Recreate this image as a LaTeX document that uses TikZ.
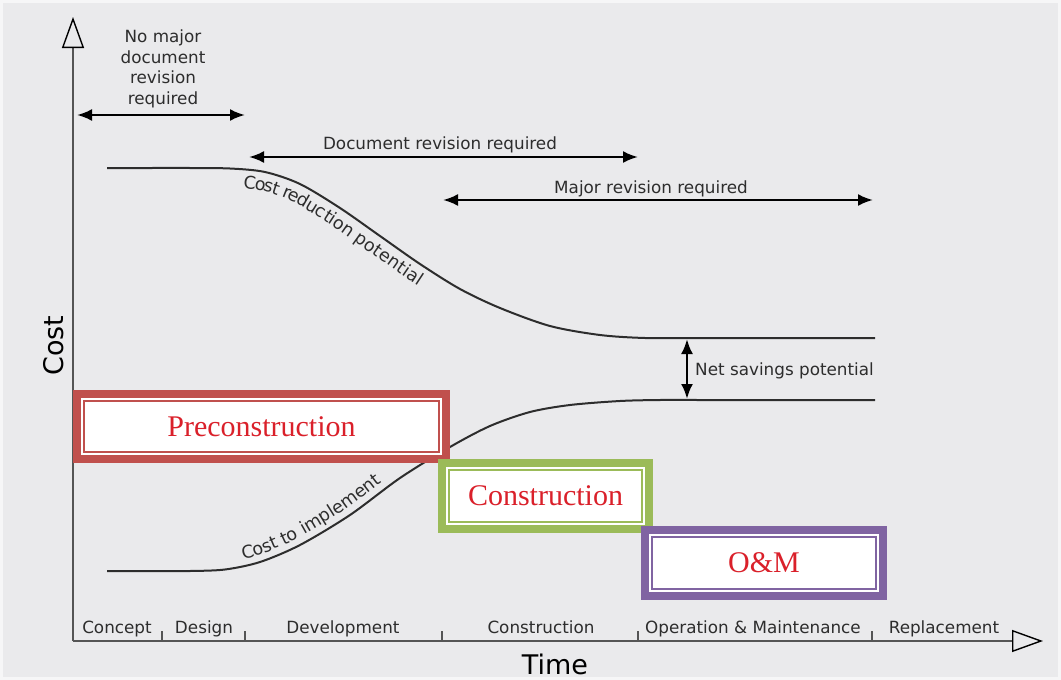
\documentclass[tikz,border=0pt]{standalone}
\usepackage{fontspec}
\setmainfont{DejaVu Sans}
\newfontfamily\serifred{Liberation Serif}
\usetikzlibrary{arrows.meta,decorations.text}

\definecolor{bgframe}{RGB}{246,246,247}
\definecolor{bg}{RGB}{234,234,236}
\definecolor{axisgray}{RGB}{85,85,85}
\definecolor{curvegray}{RGB}{45,45,45}
\definecolor{txt}{RGB}{45,45,45}
\definecolor{boxred}{RGB}{192,80,77}
\definecolor{boxgreen}{RGB}{155,187,89}
\definecolor{boxpurple}{RGB}{128,100,162}
\definecolor{labelred}{RGB}{218,32,42}

\newcommand{\lblfont}{\fontsize{16.8}{20.7}\selectfont}
\newcommand{\curvefont}{\fontsize{17.6}{20}\selectfont}

\begin{document}
\begin{tikzpicture}[x=1pt,y=-1pt,
  lbl/.style={font=\lblfont, text=txt, inner sep=0pt},
  big/.style={font=\fontsize{27}{30}\selectfont, text=black, inner sep=0pt},
  dimarrow/.style={draw=black, line width=2.4pt, {Latex[length=15pt,width=12pt]}-{Latex[length=15pt,width=12pt]}},
  curve/.style={draw=curvegray, line width=2pt},
  axisline/.style={draw=axisgray, line width=2.6pt, -{Triangle[open, length=31pt, width=22pt, line width=1.4pt, color=black]}},
  tickmark/.style={draw=axisgray, line width=1.5pt},
  phasebox/.style={draw=#1, line width=8pt, fill=white, outer sep=0pt, inner sep=0pt,
    text=labelred, font=\serifred\fontsize{30}{32}\selectfont},
  innerline/.style={draw=#1, line width=1.3pt}
]
% background
\fill[bgframe] (0,0) rectangle (1061,680);
\fill[bg] (3,3) rectangle (1058,677);
\useasboundingbox (0,0) rectangle (1061,680);

% curves
\draw[curve] plot[smooth] coordinates {(107,168) (150,168) (190,168) (230,168.5) (265,172) (300,184) (340,208) (380,236) (420,264) (460,289) (500,308) (550,326) (600,335) (645,338) (700,338) (760,338) (820,338) (875,338)};
\draw[curve] plot[smooth] coordinates {(107,571) (150,571) (190,571) (225,569.5) (260,562) (300,545) (350,515) (400,478) (450,447) (490,426) (530,412) (570,405) (620,401) (660,400) (700,400) (760,400) (820,400) (875,400)};

% labels along curves
\path[decorate, decoration={text along path, text color=txt,
   text={|\curvefont|Cost reduction potential}, raise=-19pt, text align={left indent=15pt}}]
   plot[smooth] coordinates {(230,168.5) (265,172) (300,184) (340,208) (380,236) (420,264) (460,289) (500,308) (550,326)};
\path[decorate, decoration={text along path, text color=txt,
   text={|\curvefont|Cost to implement}, raise=7pt, text align={left indent=20pt}}]
   plot[smooth] coordinates {(225,569.5) (260,562) (300,545) (350,515) (400,478) (450,447) (490,426) (530,412)};

% axes
\coordinate (O) at (73,641);
\coordinate (Ytip) at (73,17);
\coordinate (Xtip) at (1043,641);
\draw[axisline] (O) -- (Ytip);
\draw[axisline] (O) -- (Xtip);

% ticks
\foreach \tx/\nm in {162/t1,245/t2,442/t3,638/t4,872/t5}{
  \coordinate (\nm a) at (\tx,631);
  \coordinate (\nm b) at (\tx,641);
  \draw[tickmark] (\nm a) -- (\nm b);
}

% phase labels
\node[lbl, anchor=base] (concept) at (117,633) {Concept};
\node[lbl, anchor=base] (design) at (204,633) {Design};
\node[lbl, anchor=base] (devel) at (343,633) {Development};
\node[lbl, anchor=base] (constr) at (541,633) {Construction};
\node[lbl, anchor=base] (om) at (753,633) {Operation \& Maintenance};
\node[lbl, anchor=base] (repl) at (944,633) {Replacement};

% axis titles
\node[big, anchor=base] (time) at (555,674) {Time};
\node[big, anchor=base, rotate=90] (cost) at (63,345.5) {Cost};

% revision arrows
\node[lbl, align=center, anchor=north] (nomajor) at (163,29.5) {No major\\document\\revision\\required};
\coordinate (a1l) at (77,115);
\coordinate (a1r) at (245,115);
\draw[dimarrow] (a1l) -- (a1r);

\node[lbl, anchor=base] (docrev) at (440,149) {Document revision required};
\coordinate (a2l) at (249,157);
\coordinate (a2r) at (638,157);
\draw[dimarrow] (a2l) -- (a2r);

\node[lbl, anchor=base] (majrev) at (651,193) {Major revision required};
\coordinate (a3l) at (443,200);
\coordinate (a3r) at (873,200);
\draw[dimarrow] (a3l) -- (a3r);

% net savings
\coordinate (nsTop) at (687,339);
\coordinate (nsBot) at (687,399);
\draw[dimarrow, line width=2.6pt] (nsTop) -- (nsBot);
\node[lbl, anchor=base west] (netsav) at (695,375) {Net savings potential};

% phase boxes
\node[phasebox=boxred, minimum width=369pt, minimum height=65pt] (pre) at (261.5,426.5) {Preconstruction};
\draw[innerline=boxred] ([shift={(7,7)}]pre.north west) rectangle ([shift={(-7,-7)}]pre.south east);

\node[phasebox=boxgreen, minimum width=207pt, minimum height=66pt] (con) at (545.5,496) {Construction};
\draw[innerline=boxgreen] ([shift={(7,7)}]con.north west) rectangle ([shift={(-7,-7)}]con.south east);

\node[phasebox=boxpurple, minimum width=238pt, minimum height=66pt] (oandm) at (764,563) {O\&M};
\draw[innerline=boxpurple] ([shift={(7,7)}]oandm.north west) rectangle ([shift={(-7,-7)}]oandm.south east);
\end{tikzpicture}
\end{document}
